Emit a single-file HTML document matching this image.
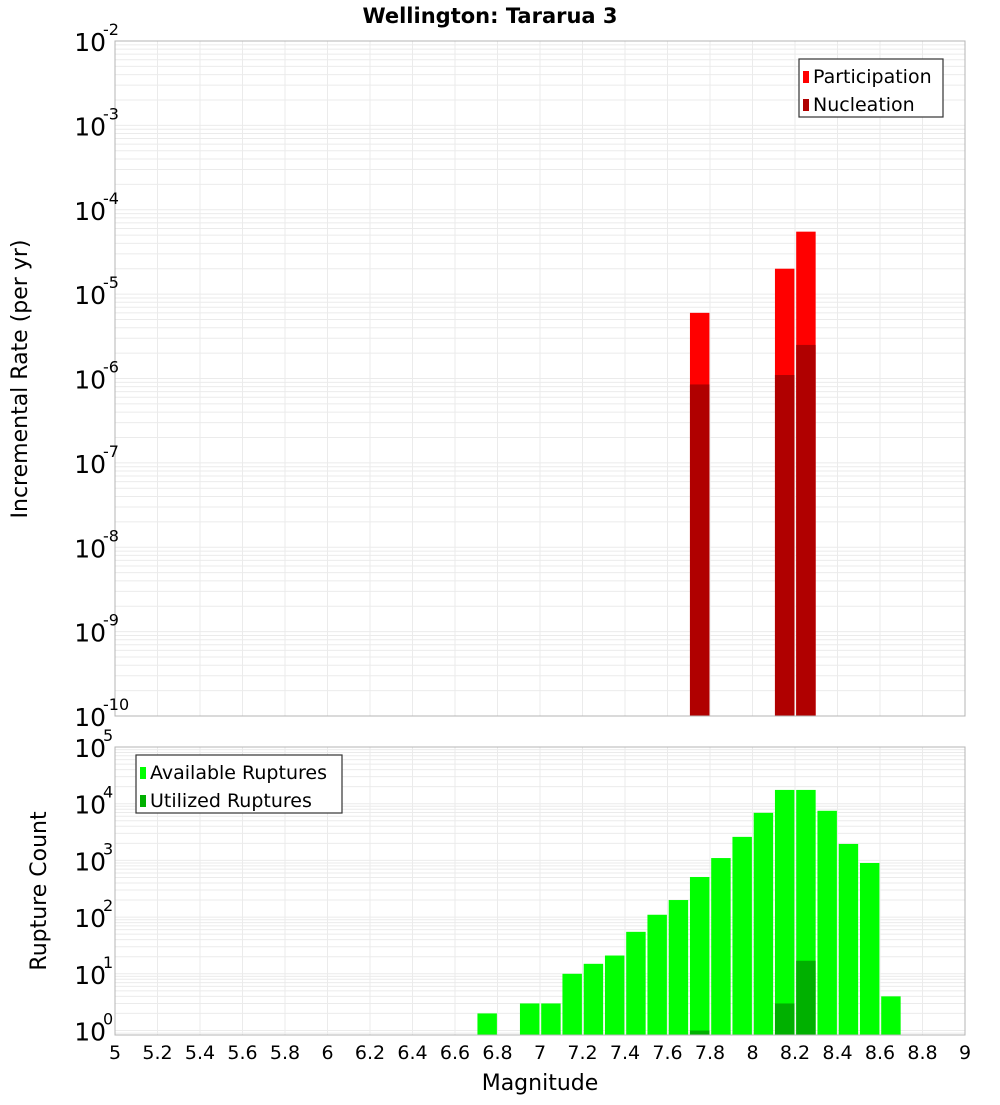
<!DOCTYPE html>
<html><head><meta charset="utf-8"><style>
body{margin:0;background:#fff;width:1000px;height:1100px;overflow:hidden}
svg text{font-family:"DejaVu Sans","Liberation Sans",sans-serif;fill:#000}
</style></head><body>
<svg id="chart" width="1000" height="1100" xmlns="http://www.w3.org/2000/svg">
<text x="490" y="23" text-anchor="middle" font-size="21" font-weight="bold">Wellington: Tararua 3</text>
<g id="topPanel"></g><g id="botPanel"></g>
<text transform="translate(27,379) rotate(-90)" text-anchor="middle" font-size="22">Incremental Rate (per yr)</text>
<text transform="translate(46,891) rotate(-90)" text-anchor="middle" font-size="22">Rupture Count</text>
<text x="540" y="1090" text-anchor="middle" font-size="22">Magnitude</text>
</svg>
<script>
const rateBins=[7.75,8.15,8.25];
const participation=[6e-6,2.0e-5,5.5e-5];
const nucleation=[8.5e-7,1.1e-6,2.5e-6];
const countBins=[6.75,6.95,7.05,7.15,7.25,7.35,7.45,7.55,7.65,7.75,7.85,7.95,8.05,8.15,8.25,8.35,8.45,8.55,8.65];
const available=[2,3,3,10,15,21,55,110,200,510,1100,2600,6900,17500,17500,7500,1950,900,4];
const utilBins=[7.75,8.15,8.25];
const utilized=[1,3,17];
const xTicks=["5","5.2","5.4","5.6","5.8","6","6.2","6.4","6.6","6.8","7","7.2","7.4","7.6","7.8","8","8.2","8.4","8.6","8.8","9"];
const topExps=[-2,-3,-4,-5,-6,-7,-8,-9,-10];
const botExps=[5,4,3,2,1,0];

const NS="http://www.w3.org/2000/svg";
const X0=115,X1=965;
const x=m=>X0+(m-5)/4*(X1-X0);
const yTop=v=>41+(-2-Math.log10(v))*84.375;
const yBot=v=>747+(5-Math.log10(v))*56.7;
function mk(p,t,a){const e=document.createElementNS(NS,t);for(const k in a)e.setAttribute(k,a[k]);p.appendChild(e);return e;}

function panel(g,yf,yT,yB,minE,maxE,name){
  mk(g,'rect',{x:X0,y:yT,width:X1-X0,height:yB-yT,fill:'#fff'});
  for(let e=minE-1;e<=maxE;e++)for(let k=1;k<10;k++){
    const yy=yf(k*Math.pow(10,e));
    if(yy<yT||yy>yB)continue;
    const l=mk(g,'line',{x1:X0,x2:X1,y1:yy,y2:yy,stroke:'#ebebeb','stroke-width':1});
    
    
  }
  xTicks.forEach(t=>{const xx=x(+t);
    const l=mk(g,'line',{x1:xx,x2:xx,y1:yT,y2:yB,stroke:'#ebebeb','stroke-width':1});
    
    });
}
function bar(g,m,v,yf,yB,fill,name){
  const yy=yf(v);
  const r=mk(g,'rect',{x:x(m-0.05)+1.2,y:yy,width:x(m+0.05)-x(m-0.05)-1.8,height:yB-yy,fill:fill});
  
  
}
function expLabel(g,e,yy,name){
  const t=mk(g,'text',{x:106,y:yy+10,'text-anchor':'end','font-size':25});
  
  
  t.textContent='10';
  const s=mk(g,'text',{x:103,y:yy-6,'font-size':16});
  
  
  s.textContent=String(e);
}
function legend(g,x0,y0,w,items,name){
  const b=mk(g,'rect',{x:x0,y:y0,width:w,height:58,fill:'#fff',stroke:'#333','stroke-width':1.2});
  
  
  items.forEach((it,i)=>{
    const s=mk(g,'rect',{x:x0+4,y:y0+12+i*28,width:6,height:12,fill:it[1]});
    
    
    const t=mk(g,'text',{x:x0+14,y:y0+24+i*28,'font-size':19});
    
    
    t.textContent=it[0];
  });
}
const gTop=document.getElementById('topPanel'),gBot=document.getElementById('botPanel');
panel(gTop,yTop,41,716,-10,-2,'top');
rateBins.forEach((m,i)=>bar(gTop,m,participation[i],yTop,716,'#ff0000','participation-bar'));
rateBins.forEach((m,i)=>bar(gTop,m,nucleation[i],yTop,716,'#b00000','nucleation-bar'));
mk(gTop,'rect',{x:X0,y:41,width:X1-X0,height:675,fill:'none',stroke:'#b4b4b4'});
topExps.forEach(e=>expLabel(gTop,e,yTop(Math.pow(10,e)),'top-y-tick'));
legend(gTop,799,59,144,[['Participation','#ff0000'],['Nucleation','#b00000']],'rate-legend');

panel(gBot,yBot,747,1035,-1,5,'bottom');
countBins.forEach((m,i)=>bar(gBot,m,available[i],yBot,1035,'#00ff00','available-bar'));
utilBins.forEach((m,i)=>bar(gBot,m,utilized[i],yBot,1035,'#00b000','utilized-bar'));
mk(gBot,'rect',{x:X0,y:747,width:X1-X0,height:288,fill:'none',stroke:'#b4b4b4'});
botExps.forEach(e=>expLabel(gBot,e,yBot(Math.pow(10,e)),'bottom-y-tick'));
legend(gBot,136,755,206,[['Available Ruptures','#00ff00'],['Utilized Ruptures','#00b000']],'count-legend');

xTicks.forEach(t=>{const e=mk(gBot,'text',{x:x(+t),y:1059,'text-anchor':'middle','font-size':19});
  
  
  e.textContent=t;});
</script>
</body></html>
